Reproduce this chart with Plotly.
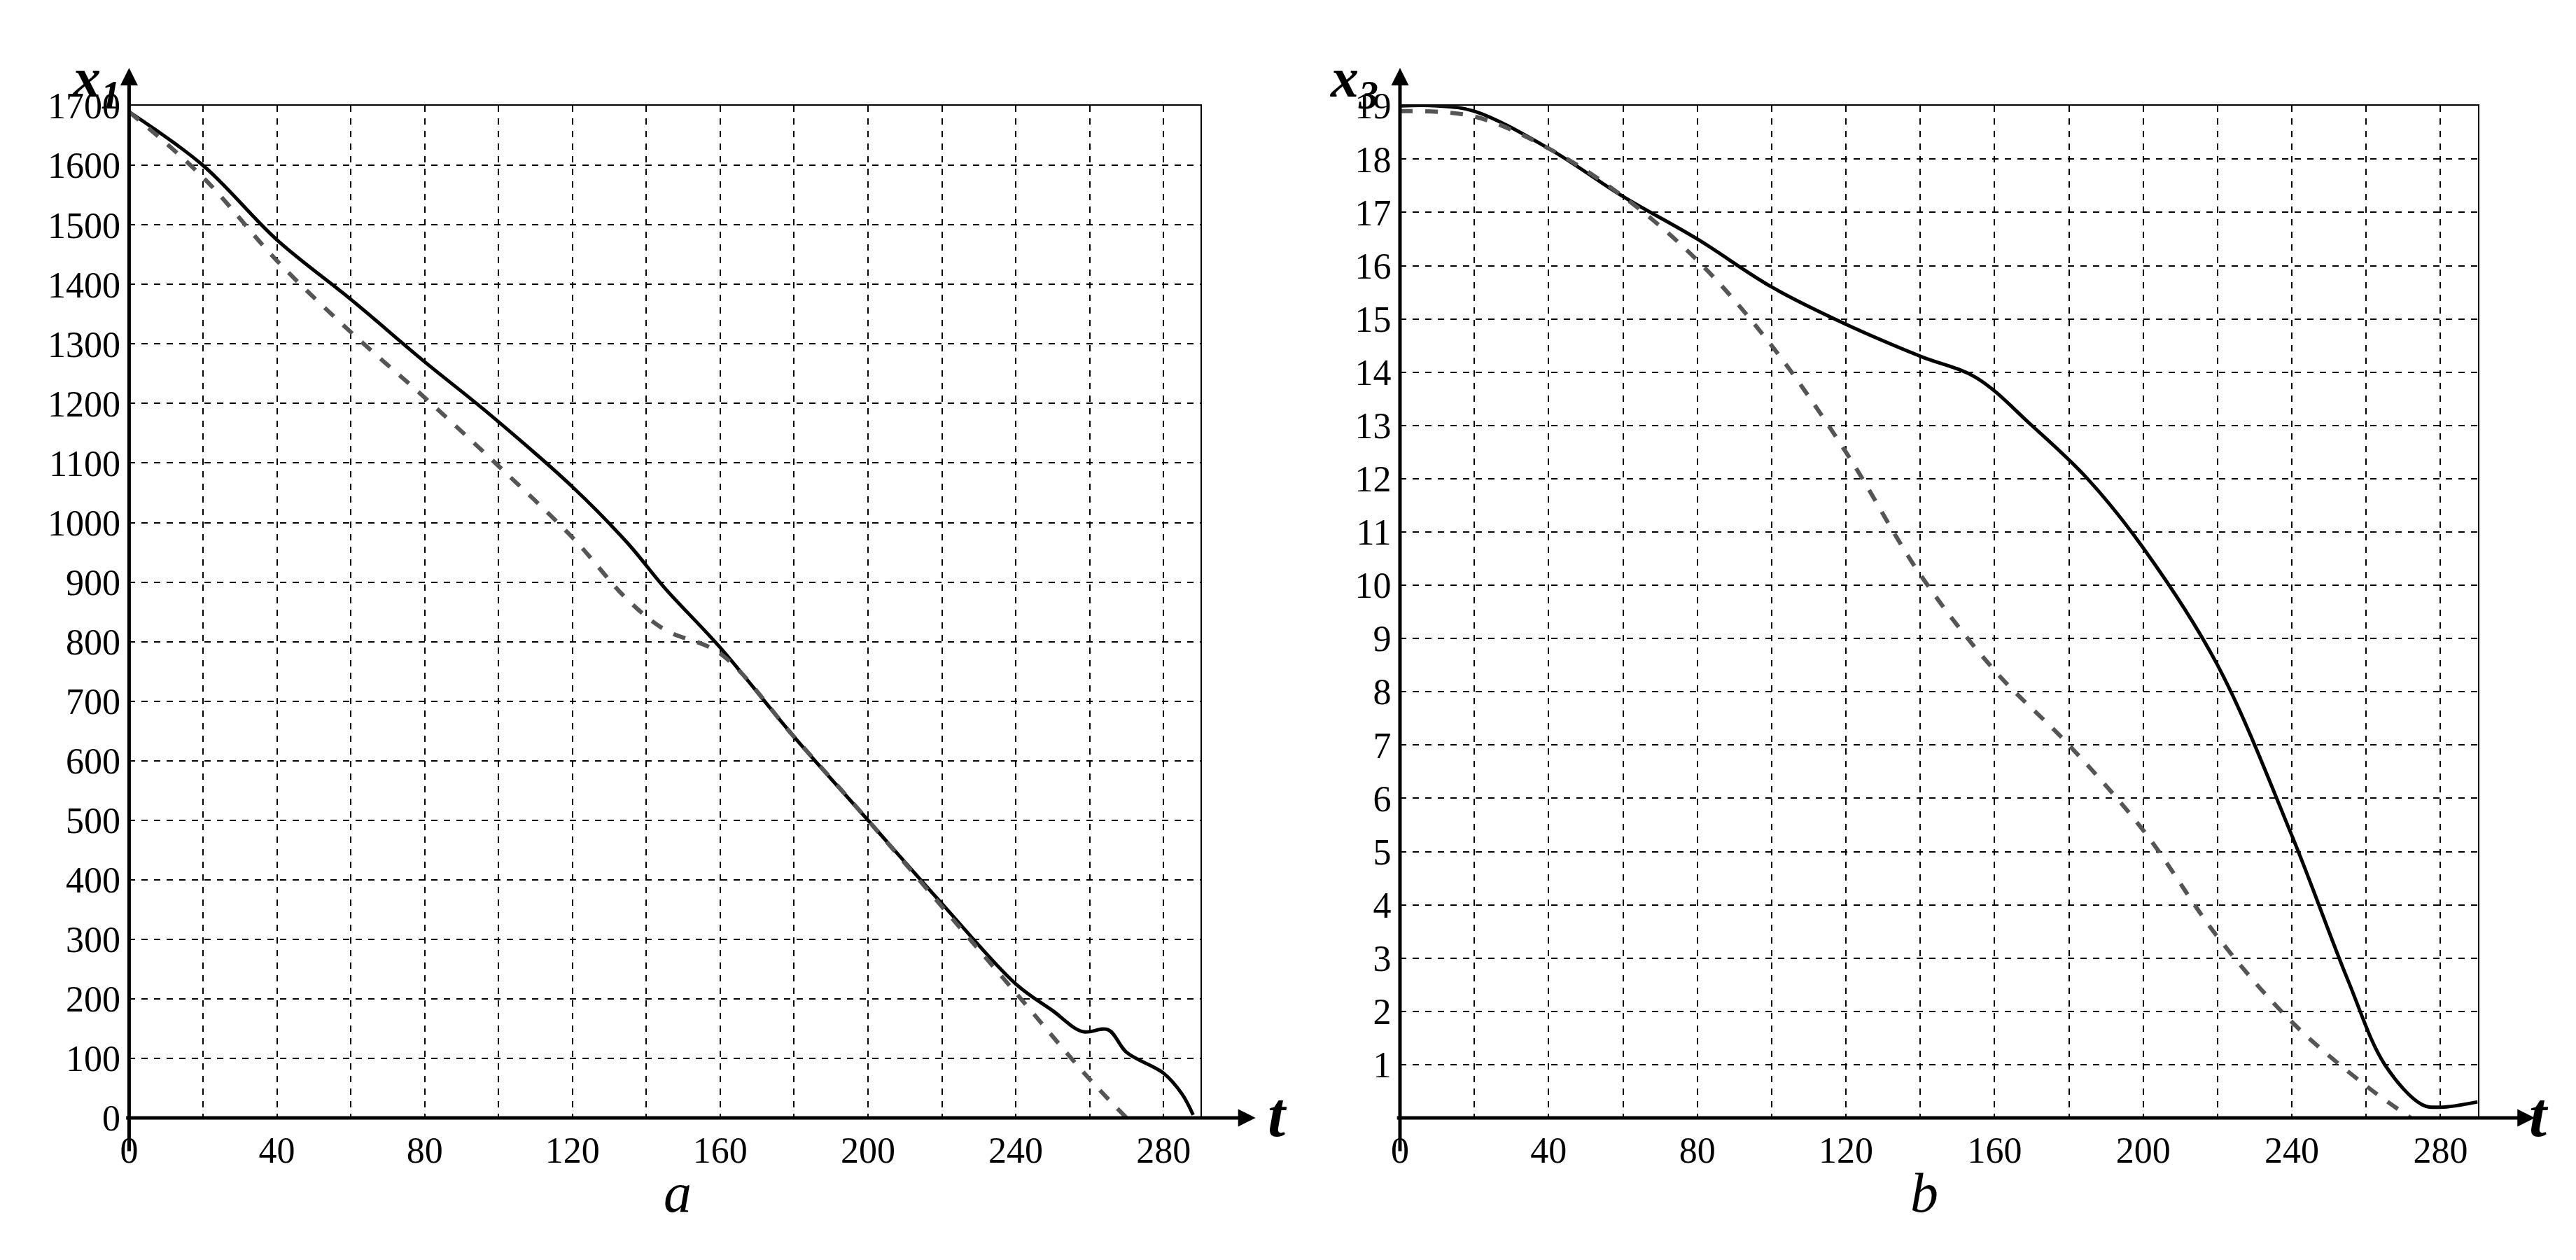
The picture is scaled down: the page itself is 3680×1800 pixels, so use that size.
import plotly.graph_objects as go

t1_solid = [0, 20, 40, 60, 80, 96, 120, 135, 145, 160, 180, 200, 220, 240, 250, 258, 265, 270, 280, 285, 288]
x1_solid = [1690, 1600, 1475, 1375, 1270, 1190, 1060, 965, 890, 790, 640, 500, 360, 225, 180, 145, 148, 110, 75, 40, 5]
t1_dash = [0, 20, 40, 60, 80, 100, 120, 135, 145, 160, 180, 200, 220, 240, 260, 270]
x1_dash = [1690, 1580, 1440, 1320, 1210, 1095, 975, 870, 820, 780, 640, 500, 355, 210, 65, 0]

t3_solid = [0, 10, 20, 40, 60, 80, 100, 120, 140, 155, 170, 185, 200, 220, 240, 255, 265, 275, 280, 290]
x3_solid = [19, 19, 18.9, 18.2, 17.3, 16.5, 15.6, 14.9, 14.3, 13.9, 13.0, 12.0, 10.7, 8.5, 5.3, 2.6, 1.0, 0.25, 0.2, 0.3]
t3_dash = [0, 20, 40, 60, 80, 100, 120, 140, 160, 180, 200, 220, 240, 260, 272]
x3_dash = [18.9, 18.8, 18.2, 17.3, 16.1, 14.5, 12.5, 10.2, 8.4, 7.0, 5.4, 3.4, 1.8, 0.6, 0.0]

W, H = 3680, 1800
L1, R1 = 164, 1700
L2, R2 = 1986, 3531
T, B = 119, 1612
font = "Liberation Serif"

fig = go.Figure()
solid = dict(color="black", width=5)
dash = dict(color="#555555", width=6, dash="dash")
fig.add_trace(go.Scatter(x=t1_solid, y=x1_solid, mode="lines", line=dict(shape="spline", **solid), xaxis="x", yaxis="y"))
fig.add_trace(go.Scatter(x=t1_dash, y=x1_dash, mode="lines", line=dict(shape="spline", **dash), xaxis="x", yaxis="y"))
fig.add_trace(go.Scatter(x=t3_solid, y=x3_solid, mode="lines", line=dict(shape="spline", **solid), xaxis="x2", yaxis="y2"))
fig.add_trace(go.Scatter(x=t3_dash, y=x3_dash, mode="lines", line=dict(shape="spline", **dash), xaxis="x2", yaxis="y2"))

grid = dict(showgrid=True, gridcolor="black", griddash="dash", gridwidth=1.5,
            showline=True, linecolor="black", linewidth=2, mirror=True, zeroline=False,
            ticks="", tickfont=dict(family=font, size=52, color="black"))
xt = dict(range=[0, 290], tickvals=[0, 40, 80, 120, 160, 200, 240, 280],
          minor=dict(tickvals=[20, 60, 100, 140, 180, 220, 260], showgrid=True, gridcolor="black", griddash="dash", gridwidth=1.5))
fig.update_layout(
    width=W, height=H, margin=dict(l=0, r=0, t=0, b=0), showlegend=False,
    plot_bgcolor="white", paper_bgcolor="white",
    xaxis=dict(domain=[L1 / W, R1 / W], anchor="y", **xt, **grid),
    yaxis=dict(domain=[1 - B / H, 1 - T / H], anchor="x", range=[0, 1700], dtick=100, **grid),
    xaxis2=dict(domain=[L2 / W, R2 / W], anchor="y2", **xt, **grid),
    yaxis2=dict(domain=[1 - B / H, 1 - T / H], anchor="x2", range=[0, 19],
                tickvals=list(range(1, 20)), **grid),
)

def arrows(L, R_tip, lab, labx, sublab, subx, tx):
    fig.add_annotation(x=R_tip / W, y=1 - B / H, xref="paper", yref="paper", ax=L - R_tip, ay=0,
                       showarrow=True, arrowhead=2, arrowsize=1, arrowwidth=5, arrowcolor="black", text="")
    fig.add_annotation(x=tx / W, y=1 - 1661 / H, xref="paper", yref="paper", showarrow=False,
                       text="<b><i>t</i></b>", font=dict(family=font, size=90, color="black"))
    fig.add_annotation(x=L / W, y=1 - 63 / H, xref="paper", yref="paper", ax=0, ay=B - 63,
                       showarrow=True, arrowhead=2, arrowsize=1, arrowwidth=5, arrowcolor="black", text="")
    fig.add_annotation(x=labx / W, y=1 - 30 / H, xref="paper", yref="paper", showarrow=False,
                       text=lab, font=dict(family=font, size=80, color="black"))
    fig.add_annotation(x=subx / W, y=1 - 1770 / H, xref="paper", yref="paper", showarrow=False,
                       text="<i>" + sublab + "</i>", font=dict(family=font, size=80, color="black"))

arrows(L1, 1779, "<b><i>x</i></b><sub><b><i>1</i></b></sub>", 80, "a", 928, 1810)
arrows(L2, 3613, "<b><i>x</i></b><sub><b><i>3</i></b></sub>", 1920, "b", 2760, 3635)

fig.write_html("out.html")
